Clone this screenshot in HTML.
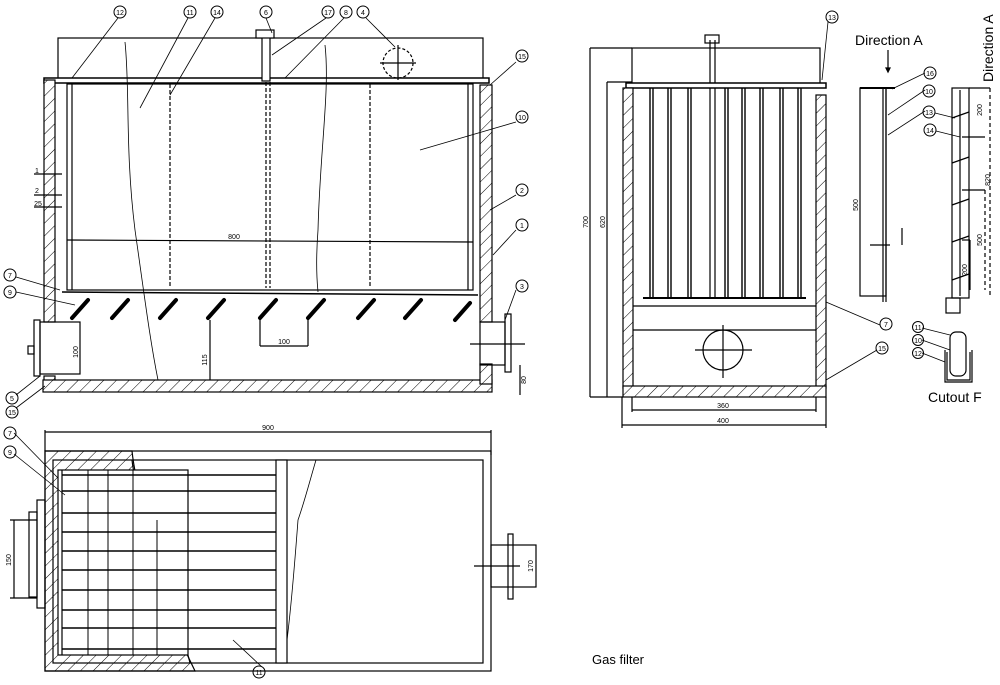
<!DOCTYPE html>
<html><head><style>
html,body{margin:0;padding:0;background:#fff;}
svg{display:block;font-family:"Liberation Sans",sans-serif;}
</style></head><body>
<svg width="1000" height="685" viewBox="0 0 1000 685" xmlns="http://www.w3.org/2000/svg">
<defs>
<pattern id="h" width="9" height="9" patternUnits="userSpaceOnUse" patternTransform="rotate(45)">
<rect width="9" height="9" fill="#fff"/><line x1="0" y1="0" x2="0" y2="9" stroke="#000" stroke-width="1"/></pattern>
</defs>
<g stroke="#000" fill="none" stroke-width="1.2">
<!-- FRONT VIEW -->
<rect x="58" y="38" width="425" height="42"/>
<rect x="44" y="78" width="445" height="5" fill="#fff" stroke-width="1.5"/>
<rect x="44" y="80" width="11" height="242" fill="url(#h)"/>
<rect x="44" y="376" width="11" height="8" fill="url(#h)"/>
<rect x="43" y="380" width="449" height="12" fill="url(#h)"/>
<rect x="480" y="85" width="12" height="237" fill="url(#h)"/>
<rect x="480" y="364" width="12" height="20" fill="url(#h)"/>
<rect x="67" y="84" width="406" height="206"/>
<line x1="72" y1="84" x2="72" y2="290"/><line x1="468" y1="84" x2="468" y2="290"/>
<line x1="67" y1="240" x2="473" y2="242"/>
<line x1="62" y1="292" x2="478" y2="295" stroke-width="1.5"/>
<line x1="170" y1="84" x2="170" y2="288" stroke-dasharray="4,2"/>
<line x1="266" y1="82" x2="266" y2="288" stroke-dasharray="4,2"/>
<line x1="270" y1="82" x2="270" y2="288" stroke-dasharray="4,2"/>
<line x1="370" y1="84" x2="370" y2="288" stroke-dasharray="4,2"/>
<path d="M125 42 C130 90 125 150 135 230 C145 300 150 340 158 380" stroke-width="0.8"/>
<path d="M325 45 C330 90 320 150 318 230 C315 270 318 290 318 292" stroke-width="0.8"/>
<rect x="262" y="33" width="8" height="48" fill="#fff"/>
<rect x="256" y="30" width="18" height="8" fill="#fff"/>
<circle cx="398" cy="63" r="15" stroke-dasharray="3,2"/><line x1="380" y1="63" x2="416" y2="63"/><line x1="398" y1="45" x2="398" y2="80"/>
<g stroke-width="4" stroke-linecap="round">
<line x1="72" y1="318" x2="88" y2="300"/><line x1="112" y1="318" x2="128" y2="300"/>
<line x1="160" y1="318" x2="176" y2="300"/><line x1="208" y1="318" x2="224" y2="300"/>
<line x1="260" y1="318" x2="276" y2="300"/><line x1="308" y1="318" x2="324" y2="300"/>
<line x1="358" y1="318" x2="374" y2="300"/><line x1="405" y1="318" x2="421" y2="300"/>
<line x1="455" y1="320" x2="470" y2="303"/></g>
<line x1="210" y1="320" x2="210" y2="380"/><line x1="260" y1="320" x2="260" y2="346"/><line x1="308" y1="320" x2="308" y2="346"/><line x1="260" y1="346" x2="308" y2="346"/>
<rect x="40" y="322" width="40" height="52"/><rect x="34" y="320" width="6" height="56"/><rect x="28" y="346" width="6" height="8"/>
<rect x="480" y="322" width="25" height="43"/><rect x="505" y="314" width="6" height="58"/>
<line x1="470" y1="344" x2="525" y2="344"/><line x1="520" y1="365" x2="520" y2="395"/>
<line x1="34" y1="174" x2="62" y2="174"/><line x1="34" y1="195" x2="62" y2="195"/><line x1="34" y1="207" x2="62" y2="207"/>
<!-- leaders -->
<line x1="118" y1="18" x2="72" y2="78" stroke-width="0.8"/><line x1="188" y1="18" x2="140" y2="108" stroke-width="0.8"/>
<line x1="215" y1="18" x2="170" y2="95" stroke-width="0.8"/><line x1="266" y1="18" x2="272" y2="33" stroke-width="0.8"/>
<line x1="326" y1="18" x2="272" y2="55" stroke-width="0.8"/><line x1="344" y1="18" x2="285" y2="78" stroke-width="0.8"/>
<line x1="366" y1="18" x2="395" y2="47" stroke-width="0.8"/>
<line x1="516" y1="62" x2="490" y2="85" stroke-width="0.8"/><line x1="516" y1="122" x2="420" y2="150" stroke-width="0.8"/>
<line x1="516" y1="195" x2="490" y2="210" stroke-width="0.8"/><line x1="516" y1="230" x2="493" y2="255" stroke-width="0.8"/>
<line x1="516" y1="290" x2="505" y2="320" stroke-width="0.8"/>
<line x1="16" y1="277" x2="60" y2="290" stroke-width="0.8"/><line x1="16" y1="292" x2="75" y2="305" stroke-width="0.8"/>
<line x1="16" y1="395" x2="40" y2="376" stroke-width="0.8"/><line x1="16" y1="408" x2="45" y2="386" stroke-width="0.8"/>
<g stroke-width="1"><circle cx="120" cy="12" r="6"/><circle cx="190" cy="12" r="6"/><circle cx="217" cy="12" r="6"/><circle cx="266" cy="12" r="6"/><circle cx="328" cy="12" r="6"/><circle cx="346" cy="12" r="6"/><circle cx="363" cy="12" r="6"/>
<circle cx="522" cy="56" r="6"/><circle cx="522" cy="117" r="6"/><circle cx="522" cy="190" r="6"/><circle cx="522" cy="225" r="6"/><circle cx="522" cy="286" r="6"/>
<circle cx="10" cy="275" r="6"/><circle cx="10" cy="292" r="6"/><circle cx="12" cy="398" r="6"/><circle cx="12" cy="412" r="6"/></g>

<!-- SIDE VIEW -->
<rect x="632" y="48" width="188" height="37"/>
<rect x="705" y="35" width="14" height="8"/><line x1="710" y1="40" x2="710" y2="298"/><line x1="715" y1="40" x2="715" y2="298"/>
<rect x="626" y="83" width="200" height="5" fill="#fff" stroke-width="1.5"/>
<rect x="623" y="88" width="10" height="300" fill="url(#h)"/>
<rect x="816" y="95" width="10" height="293" fill="url(#h)"/>
<rect x="623" y="386" width="203" height="11" fill="url(#h)"/>
<g stroke-width="1.4">
<line x1="650" y1="88" x2="650" y2="298"/><line x1="653" y1="88" x2="653" y2="298"/>
<line x1="668" y1="88" x2="668" y2="298"/><line x1="671" y1="88" x2="671" y2="298"/>
<line x1="688" y1="88" x2="688" y2="298"/><line x1="691" y1="88" x2="691" y2="298"/>
<line x1="725" y1="88" x2="725" y2="298"/><line x1="728" y1="88" x2="728" y2="298"/>
<line x1="742" y1="88" x2="742" y2="298"/><line x1="745" y1="88" x2="745" y2="298"/>
<line x1="760" y1="88" x2="760" y2="298"/><line x1="763" y1="88" x2="763" y2="298"/>
<line x1="780" y1="88" x2="780" y2="298"/><line x1="783" y1="88" x2="783" y2="298"/>
<line x1="798" y1="88" x2="798" y2="298"/><line x1="801" y1="88" x2="801" y2="298"/></g>
<line x1="643" y1="298" x2="806" y2="298" stroke-width="2"/>
<line x1="633" y1="306" x2="816" y2="306"/><line x1="633" y1="330" x2="816" y2="330"/>
<circle cx="723" cy="350" r="20"/><line x1="695" y1="350" x2="752" y2="350"/><line x1="723" y1="325" x2="723" y2="378"/>
<line x1="590" y1="48" x2="632" y2="48"/><line x1="590" y1="48" x2="590" y2="397"/><line x1="607" y1="82" x2="632" y2="82"/><line x1="607" y1="82" x2="607" y2="397"/>
<line x1="590" y1="397" x2="623" y2="397"/>
<line x1="632" y1="397" x2="632" y2="412"/><line x1="816" y1="397" x2="816" y2="412"/><line x1="632" y1="410" x2="816" y2="410"/>
<line x1="622" y1="397" x2="622" y2="428"/><line x1="826" y1="397" x2="826" y2="428"/><line x1="622" y1="425" x2="826" y2="425"/>
<line x1="828" y1="22" x2="822" y2="80" stroke-width="0.8"/><line x1="880" y1="325" x2="826" y2="302" stroke-width="0.8"/><line x1="877" y1="350" x2="826" y2="380" stroke-width="0.8"/>
<g stroke-width="1"><circle cx="832" cy="17" r="6"/><circle cx="886" cy="324" r="6"/><circle cx="882" cy="348" r="6"/></g>
<!-- direction A detail -->
<line x1="888" y1="50" x2="888" y2="71"/><polygon points="886,68 890,68 888,72" fill="#000"/>
<rect x="860" y="88" width="26" height="208"/>
<line x1="883" y1="88" x2="883" y2="302"/><line x1="886" y1="88" x2="886" y2="302"/>
<line x1="860" y1="88" x2="895" y2="88" stroke-width="2"/>
<line x1="870" y1="245" x2="890" y2="245"/><line x1="902" y1="228" x2="902" y2="245"/>
<line x1="925" y1="73" x2="892" y2="89" stroke-width="0.8"/><line x1="925" y1="90" x2="888" y2="115" stroke-width="0.8"/><line x1="925" y1="111" x2="888" y2="135" stroke-width="0.8"/>
<g stroke-width="1"><circle cx="930" cy="73" r="6"/><circle cx="929" cy="91" r="6"/><circle cx="929" cy="112" r="6"/><circle cx="930" cy="130" r="6"/></g>
<line x1="935" y1="113" x2="955" y2="118" stroke-width="0.8"/><line x1="936" y1="131" x2="960" y2="137" stroke-width="0.8"/>
<rect x="952" y="88" width="17" height="210"/>
<line x1="952" y1="118" x2="969" y2="112"/><line x1="952" y1="163" x2="969" y2="157"/><line x1="952" y1="205" x2="969" y2="199"/><line x1="952" y1="242" x2="969" y2="236"/><line x1="952" y1="280" x2="969" y2="274"/>
<line x1="960" y1="90" x2="960" y2="296"/>
<line x1="969" y1="88" x2="990" y2="88"/><line x1="990" y1="88" x2="990" y2="298" stroke-dasharray="4,3"/>
<line x1="962" y1="137" x2="985" y2="137"/><line x1="962" y1="190" x2="985" y2="190"/><line x1="985" y1="190" x2="985" y2="290" stroke-dasharray="4,3"/>
<line x1="962" y1="240" x2="970" y2="240"/><line x1="970" y1="240" x2="970" y2="290"/>
<rect x="946" y="298" width="14" height="15"/>
<!-- cutout F -->
<rect x="950" y="332" width="16" height="44" rx="6"/>
<path d="M945 350 L945 382 L972 382 L972 350"/><path d="M947 352 L947 380 L970 380 L970 352"/>
<line x1="922" y1="328" x2="950" y2="335" stroke-width="0.8"/><line x1="922" y1="340" x2="950" y2="350" stroke-width="0.8"/><line x1="922" y1="353" x2="945" y2="362" stroke-width="0.8"/>
<g stroke-width="1"><circle cx="918" cy="327" r="5.5"/><circle cx="918" cy="340" r="5.5"/><circle cx="918" cy="353" r="5.5"/></g>

<!-- PLAN VIEW -->
<line x1="45" y1="432" x2="491" y2="432"/><line x1="45" y1="430" x2="45" y2="451"/><line x1="491" y1="430" x2="491" y2="455"/>
<path d="M45 451 L132 451 C135 480 145 510 150 540 C160 600 180 640 195 671 L45 671 Z" fill="url(#h)"/>
<rect x="45" y="451" width="446" height="220"/>
<rect x="53" y="460" width="430" height="203" fill="none"/>
<path d="M132 460 C135 490 150 520 160 560 C170 610 185 640 190 663" fill="none"/>
<rect x="58" y="470" width="130" height="185" fill="#fff"/>
<g stroke-width="1">
<line x1="88" y1="470" x2="88" y2="655"/><line x1="108" y1="470" x2="108" y2="655"/><line x1="133" y1="470" x2="133" y2="655"/><line x1="157" y1="520" x2="157" y2="655"/></g>
<g stroke-width="1.4">
<line x1="62" y1="475" x2="276" y2="475"/><line x1="62" y1="491" x2="276" y2="491"/><line x1="62" y1="513" x2="276" y2="513"/>
<line x1="62" y1="532" x2="276" y2="532"/><line x1="62" y1="551" x2="276" y2="551"/><line x1="62" y1="570" x2="276" y2="570"/>
<line x1="62" y1="590" x2="276" y2="590"/><line x1="62" y1="610" x2="276" y2="610"/><line x1="62" y1="628" x2="276" y2="628"/><line x1="62" y1="649" x2="276" y2="649"/></g>
<line x1="62" y1="470" x2="62" y2="655"/>
<rect x="276" y="460" width="11" height="203" fill="#fff"/>
<path d="M316 460 C310 480 305 500 298 520 C295 560 292 600 287 640" stroke-width="0.8"/>
<rect x="29" y="512" width="8" height="85"/><rect x="37" y="500" width="8" height="108"/>
<line x1="10" y1="520" x2="37" y2="520"/><line x1="10" y1="598" x2="37" y2="598"/><line x1="14" y1="520" x2="14" y2="598"/>
<rect x="491" y="545" width="45" height="42"/><rect x="508" y="534" width="5" height="65"/>
<line x1="474" y1="566" x2="520" y2="566"/>
<line x1="233" y1="640" x2="262" y2="667" stroke-width="0.8"/><circle cx="259" cy="672" r="6" stroke-width="1"/>
<line x1="14" y1="433" x2="58" y2="478" stroke-width="0.8"/><line x1="14" y1="454" x2="65" y2="495" stroke-width="0.8"/>
<g stroke-width="1"><circle cx="10" cy="433" r="6"/><circle cx="10" cy="452" r="6"/></g>
</g>
<g font-size="7" fill="#000" text-anchor="middle">
<text x="120" y="15">12</text><text x="190" y="15">11</text><text x="217" y="15">14</text><text x="266" y="15">6</text><text x="328" y="15">17</text><text x="346" y="15">8</text><text x="363" y="15">4</text>
<text x="522" y="59">15</text><text x="522" y="120">10</text><text x="522" y="193">2</text><text x="522" y="228">1</text><text x="522" y="289">3</text>
<text x="10" y="278">7</text><text x="10" y="295">9</text><text x="12" y="401">5</text><text x="12" y="415">15</text>
<text x="832" y="20">13</text><text x="886" y="327">7</text><text x="882" y="351">15</text>
<text x="930" y="76">16</text><text x="929" y="94">10</text><text x="929" y="115">13</text><text x="930" y="133">14</text>
<text x="918" y="330">11</text><text x="918" y="343">10</text><text x="918" y="356">12</text>
<text x="259" y="675">11</text><text x="10" y="436">7</text><text x="10" y="455">9</text>
<text x="234" y="239">800</text><text x="284" y="344">100</text><text x="37" y="173">1</text><text x="37" y="193">2</text><text x="38" y="206">25</text>
<text x="723" y="408">360</text><text x="723" y="423">400</text><text x="268" y="430">900</text>
</g>
<g font-size="7" fill="#000" text-anchor="middle">
<text transform="translate(78,352) rotate(-90)">100</text><text transform="translate(207,360) rotate(-90)">115</text>
<text transform="translate(526,380) rotate(-90)">80</text>
<text transform="translate(588,222) rotate(-90)">700</text><text transform="translate(605,222) rotate(-90)">620</text>
<text transform="translate(858,205) rotate(-90)">500</text><text transform="translate(11,560) rotate(-90)">150</text>
<text transform="translate(533,566) rotate(-90)">170</text>
<text transform="translate(982,110) rotate(-90)">200</text><text transform="translate(990,180) rotate(-90)">820</text>
<text transform="translate(982,240) rotate(-90)">500</text><text transform="translate(967,270) rotate(-90)">200</text>
</g>
<g font-family="Liberation Sans, sans-serif" fill="#000">
<text x="855" y="45" font-size="14">Direction A</text>
<text transform="translate(993,82) rotate(-90)" font-size="14">Direction A</text>
<text x="928" y="402" font-size="14">Cutout F</text>
<text x="592" y="664" font-size="13">Gas filter</text>
</g>
</svg>
</body></html>
